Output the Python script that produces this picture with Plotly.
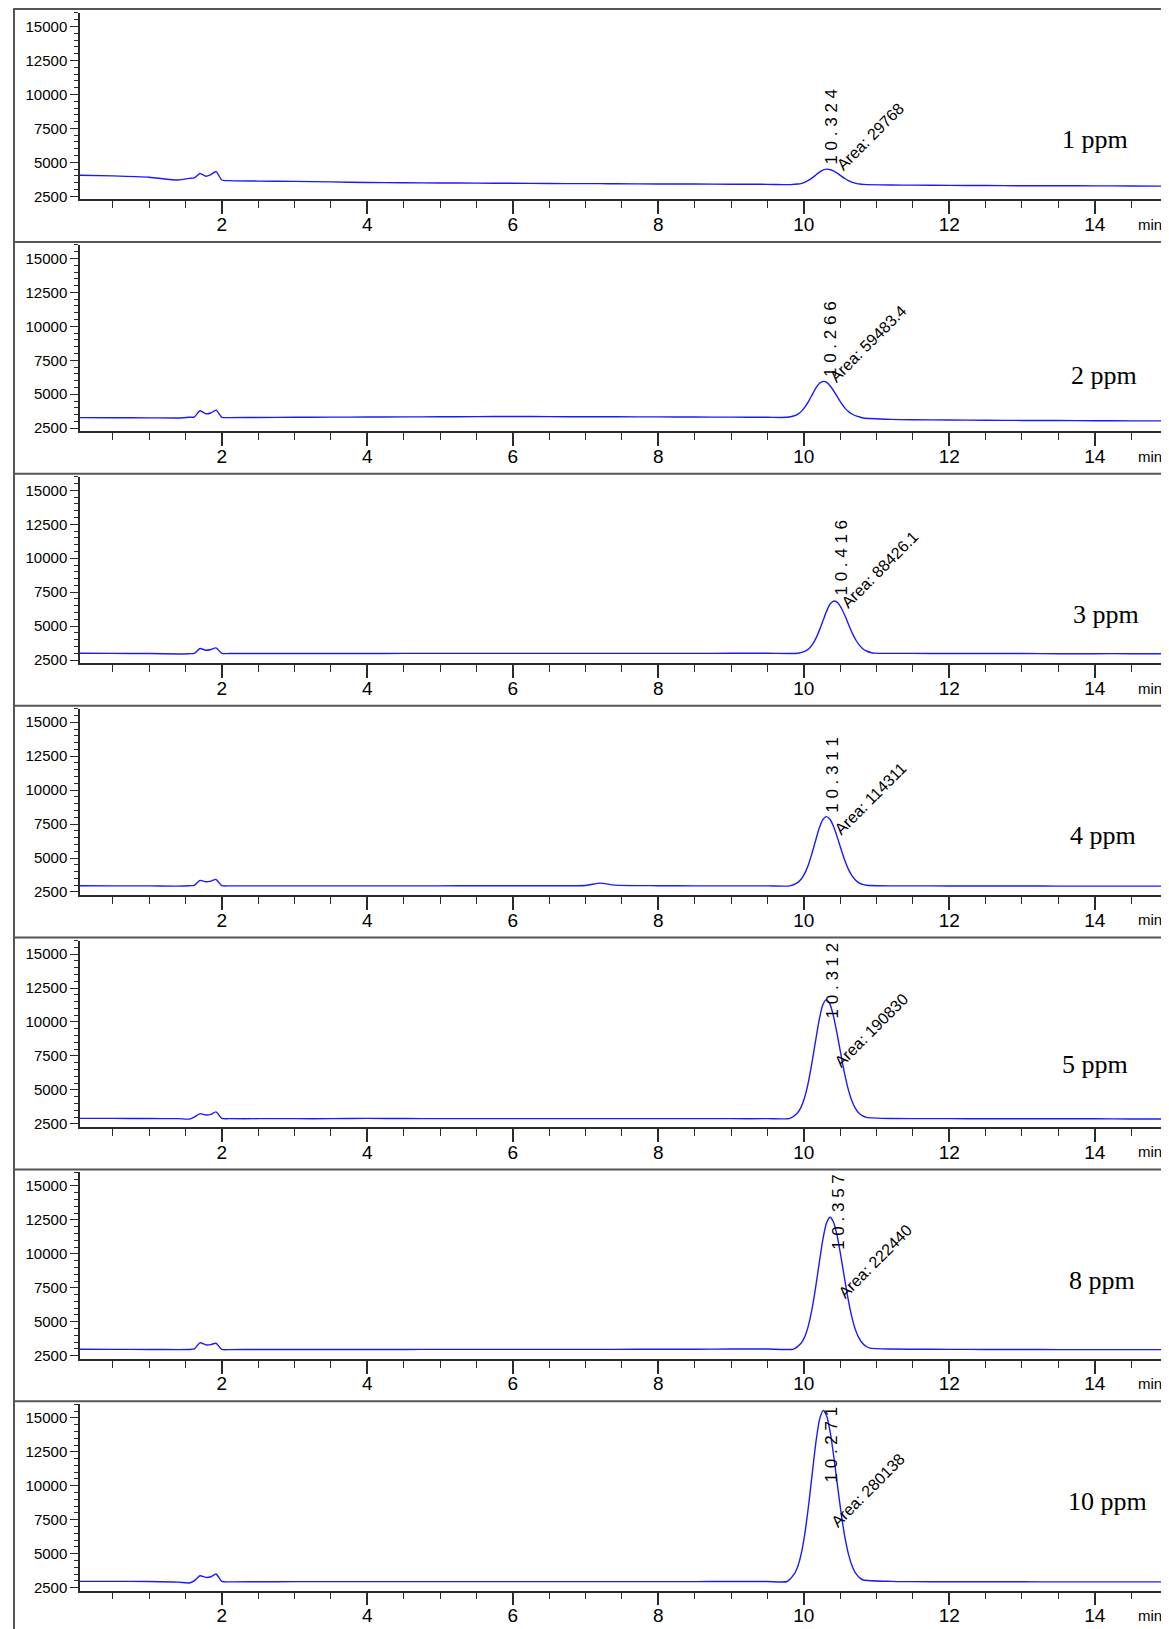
import plotly.graph_objects as go

# ---------------- data ----------------
conc_labels = ["1 ppm", "2 ppm", "3 ppm", "4 ppm", "5 ppm", "8 ppm", "10 ppm"]
rt_labels = ["1 0 . 3 2 4", "1 0 . 2 6 6", "1 0 . 4 1 6", "1 0 . 3 1 1",
             "1 0 . 3 1 2", "1 0 . 3 5 7", "1 0 . 2 7 1"]
area_labels = ["Area: 29768", "Area: 59483.4", "Area: 88426.1", "Area: 114311",
               "Area: 190830", "Area: 222440", "Area: 280138"]

times_pre = [0.05, 0.5, 1.0, 1.4, 1.55, 1.62, 1.70, 1.78, 1.85, 1.92, 2.0, 2.1, 2.5,
             3.0, 3.5, 4.0, 4.5, 5.0, 5.5, 6.0, 6.5, 7.0, 7.2, 7.4, 8.0, 8.5, 9.0, 9.5]
times_post = [11.2, 11.5, 12.0, 12.5, 13.0, 13.5, 14.0, 14.5, 14.98]

# peak-region times for each run
tp_1ppm = [9.82, 9.92, 9.97, 10.02, 10.07, 10.12, 10.17, 10.22, 10.27, 10.32, 10.37,
           10.42, 10.47, 10.52, 10.57, 10.62, 10.67, 10.72, 10.77, 10.82, 10.87]
tp_2ppm = [9.77, 9.87, 9.92, 9.97, 10.02, 10.07, 10.12, 10.17, 10.22, 10.27, 10.32,
           10.37, 10.42, 10.47, 10.52, 10.57, 10.62, 10.67, 10.72, 10.77, 10.82]
tp_3ppm = [9.92, 10.02, 10.07, 10.12, 10.17, 10.22, 10.27, 10.32, 10.37, 10.42, 10.47,
           10.52, 10.57, 10.62, 10.67, 10.72, 10.77, 10.82, 10.87, 10.92, 10.97]
tp_4ppm = [9.81, 9.91, 9.96, 10.01, 10.06, 10.11, 10.16, 10.21, 10.26, 10.31, 10.36,
           10.41, 10.46, 10.51, 10.56, 10.61, 10.66, 10.71, 10.76, 10.81, 10.86]
tp_5ppm = [9.81, 9.91, 9.96, 10.01, 10.06, 10.11, 10.16, 10.21, 10.26, 10.31, 10.36,
           10.41, 10.46, 10.51, 10.56, 10.61, 10.66, 10.71, 10.76, 10.81, 10.86]
tp_8ppm = [9.86, 9.96, 10.01, 10.06, 10.11, 10.16, 10.21, 10.26, 10.31, 10.36, 10.41,
           10.46, 10.51, 10.56, 10.61, 10.66, 10.71, 10.76, 10.81, 10.86, 10.91]
tp_10ppm = [9.77, 9.87, 9.92, 9.97, 10.02, 10.07, 10.12, 10.17, 10.22, 10.27, 10.32,
            10.37, 10.42, 10.47, 10.52, 10.57, 10.62, 10.67, 10.72, 10.77, 10.82]

# detector signal
pre_1ppm = [4050, 4000, 3900, 3700, 3820, 3850, 4180, 3980, 4100, 4320, 3700, 3650, 3620,
            3600, 3560, 3520, 3500, 3480, 3470, 3460, 3440, 3430, 3430, 3425, 3410, 3400, 3390, 3380]
peak_1ppm = [3360, 3400, 3455, 3550, 3690, 3875, 4090, 4295, 4445, 4500, 4455,
             4335, 4165, 3970, 3790, 3635, 3525, 3450, 3400, 3375, 3360]
post_1ppm = [3330, 3320, 3300, 3290, 3280, 3280, 3270, 3260, 3250]

pre_2ppm = [3280, 3270, 3260, 3250, 3300, 3320, 3780, 3560, 3620, 3830, 3300, 3280, 3290,
            3300, 3310, 3320, 3330, 3340, 3350, 3360, 3350, 3340, 3340, 3340, 3330, 3320, 3310, 3300]
peak_2ppm = [3300, 3417, 3541, 3756, 4082, 4514, 5007, 5481, 5823, 5950, 5849,
             5571, 5174, 4731, 4310, 3960, 3700, 3525, 3400, 3320, 3250]
post_2ppm = [3150, 3120, 3100, 3080, 3070, 3060, 3050, 3040, 3040]

pre_3ppm = [3000, 2990, 2980, 2950, 2970, 2990, 3350, 3220, 3280, 3400, 2990, 2980, 2980,
            2980, 2980, 2980, 2990, 2990, 2990, 2990, 2990, 2990, 2990, 2990, 2990, 2990, 3000, 3000]
peak_3ppm = [3000, 3150, 3330, 3650, 4130, 4760, 5480, 6180, 6680, 6850, 6710,
             6300, 5720, 5070, 4450, 3940, 3560, 3300, 3150, 3060, 3010]
post_3ppm = [2990, 2990, 2980, 2980, 2980, 2970, 2970, 2970, 2960]

pre_4ppm = [2960, 2950, 2950, 2930, 2960, 2990, 3350, 3250, 3300, 3420, 2960, 2950, 2950,
            2950, 2950, 2950, 2950, 2950, 2960, 2960, 2960, 2980, 3150, 3000, 2960, 2950, 2950, 2950]
peak_4ppm = [2950, 3174, 3414, 3827, 4455, 5286, 6234, 7147, 7805, 8050, 7856,
             7321, 6556, 5704, 4893, 4220, 3720, 3384, 3174, 3057, 2996]
post_4ppm = [2950, 2950, 2940, 2940, 2940, 2930, 2930, 2930, 2930]

pre_5ppm = [2900, 2900, 2890, 2880, 2850, 3000, 3250, 3150, 3200, 3380, 2900, 2880, 2880,
            2880, 2880, 2900, 2890, 2880, 2880, 2880, 2880, 2880, 2880, 2880, 2880, 2880, 2880, 2880]
peak_5ppm = [2900, 3285, 3696, 4405, 5481, 6908, 8535, 10101, 11230, 11650, 11318,
             10399, 9086, 7625, 6234, 5079, 4221, 3644, 3285, 3084, 2979]
post_5ppm = [2890, 2880, 2880, 2870, 2870, 2870, 2870, 2860, 2860]

pre_8ppm = [2980, 2970, 2960, 2950, 2960, 3000, 3450, 3300, 3320, 3420, 2960, 2950, 2960,
            2960, 2960, 2960, 2960, 2970, 2970, 2970, 2970, 2970, 2970, 2970, 2980, 2980, 2990, 2990]
peak_8ppm = [2990, 3400, 3850, 4640, 5840, 7420, 9230, 10974, 12232, 12700, 12330,
             11306, 9843, 8215, 6665, 5378, 4422, 3790, 3400, 3180, 3060]
post_8ppm = [2990, 2980, 2970, 2960, 2960, 2950, 2950, 2950, 2950]

pre_10ppm = [2960, 2960, 2950, 2900, 2843, 3000, 3376, 3250, 3300, 3500, 2950, 2920, 2930,
             2940, 2940, 2940, 2940, 2940, 2940, 2940, 2940, 2940, 2940, 2940, 2940, 2940, 2950, 2950]
peak_10ppm = [2950, 3504, 4097, 5117, 6667, 8721, 11064, 13320, 14945, 15550, 15071,
              13748, 11858, 9754, 7751, 6087, 4853, 4021, 3504, 3215, 3063]
post_10ppm = [2960, 2940, 2930, 2930, 2930, 2920, 2920, 2920, 2920]

runs = [
    (tp_1ppm, pre_1ppm, peak_1ppm, post_1ppm),
    (tp_2ppm, pre_2ppm, peak_2ppm, post_2ppm),
    (tp_3ppm, pre_3ppm, peak_3ppm, post_3ppm),
    (tp_4ppm, pre_4ppm, peak_4ppm, post_4ppm),
    (tp_5ppm, pre_5ppm, peak_5ppm, post_5ppm),
    (tp_8ppm, pre_8ppm, peak_8ppm, post_8ppm),
    (tp_10ppm, pre_10ppm, peak_10ppm, post_10ppm),
]

y_ticks = [2500, 5000, 7500, 10000, 12500, 15000]
x_ticks = [2, 4, 6, 8, 10, 12, 14]

# ---------------- layout constants (positions) ----------------
W, H = 1169, 1629
PANEL_TOP0 = 2.0
PANEL_STEP = 232.6
PLOT_TOP_OFF = 3.0
PLOT_BOT_OFF = 190.0
X_LEFT, X_RIGHT = 72.0, 1158.0
FRAME_LEFT = 6.0

rt_pos = [(10.385, 7617), (10.375, 9070), (10.513, 10055), (10.399, 11114),
          (10.399, 13049), (10.467, 13079), (10.385, 13025)]
area_pos = [(10.918, 6886), (10.89, 8705), (11.05, 9143), (10.925, 9347),
            (10.925, 9404), (10.98, 9462), (10.88, 9654)]
conc_pos = [(14.0, 6667), (14.13, 6354), (14.15, 5836), (14.11, 6683),
            (14.01, 6896), (14.10, 8061), (14.18, 8858)]

SANS = "Liberation Sans, Arial, sans-serif"
SERIF = "Liberation Serif, Times New Roman, serif"
LINE_COL = "#2a2a2a"

fig = go.Figure()
layout = dict(
    width=W, height=H, margin=dict(l=0, r=0, t=0, b=0),
    paper_bgcolor="white", plot_bgcolor="white", showlegend=False,
    annotations=[], shapes=[],
)

for i, (tp, pre, peak, post) in enumerate(runs):
    n = "" if i == 0 else str(i + 1)
    P = PANEL_TOP0 + PANEL_STEP * i
    y_top = 1 - (P + PLOT_TOP_OFF) / H
    y_bot = 1 - (P + PLOT_BOT_OFF) / H
    t_all = times_pre + tp + times_post
    s_all = pre + peak + post
    fig.add_trace(go.Scatter(
        x=t_all, y=s_all, mode="lines", xaxis="x" + n, yaxis="y" + n,
        line=dict(color="#1a1aff", width=1.4, shape="spline", smoothing=0.6),
        hoverinfo="skip",
    ))
    layout["xaxis" + n] = dict(
        domain=[X_LEFT / W, X_RIGHT / W], anchor="y" + n, range=[0.05, 14.98],
        showgrid=False, zeroline=False, showline=True, linecolor=LINE_COL, linewidth=1.5,
        tickmode="array", tickvals=x_ticks, ticktext=[str(v) for v in x_ticks],
        ticks="outside", ticklen=13, tickwidth=1.5, tickcolor=LINE_COL,
        minor=dict(ticks="outside", ticklen=7, tickwidth=1.2, tickcolor=LINE_COL,
                   tickmode="linear", tick0=0, dtick=0.5),
        ticklabelstandoff=-6,
        tickfont=dict(family=SANS, size=19, color="black"),
        fixedrange=True,
    )
    layout["yaxis" + n] = dict(
        domain=[y_bot, y_top], anchor="x" + n, range=[2270, 16000],
        showgrid=False, zeroline=False, showline=True, linecolor=LINE_COL, linewidth=1.5,
        tickmode="array", tickvals=y_ticks, ticktext=[str(v) for v in y_ticks],
        ticks="outside", ticklen=8, tickwidth=1.2, tickcolor=LINE_COL,
        minor=dict(ticks="outside", ticklen=4, tickwidth=1, tickcolor=LINE_COL,
                   tickmode="linear", tick0=0, dtick=500),
        tickfont=dict(family=SANS, size=15, color="black"),
        fixedrange=True,
    )
    # retention time label (vertical)
    layout["annotations"].append(dict(
        x=rt_pos[i][0], y=rt_pos[i][1], xref="x" + n, yref="y" + n,
        text=rt_labels[i], showarrow=False, textangle=-90,
        xanchor="center", yanchor="middle",
        font=dict(family=SANS, size=17, color="black"),
    ))
    # area label (slanted)
    layout["annotations"].append(dict(
        x=area_pos[i][0], y=area_pos[i][1], xref="x" + n, yref="y" + n,
        text=area_labels[i], showarrow=False, textangle=-45,
        xanchor="center", yanchor="middle",
        font=dict(family=SANS, size=16, color="black"),
    ))
    # concentration label
    layout["annotations"].append(dict(
        x=conc_pos[i][0], y=conc_pos[i][1], xref="x" + n, yref="y" + n,
        text=conc_labels[i], showarrow=False,
        xanchor="center", yanchor="middle",
        font=dict(family=SERIF, size=26, color="black"),
    ))
    # "min" unit label
    layout["annotations"].append(dict(
        x=(X_RIGHT - 2) / W, y=1 - (P + 215) / H, xref="paper", yref="paper",
        text="min", showarrow=False, xanchor="right", yanchor="middle",
        font=dict(family=SANS, size=15, color="black"),
    ))
    # separator between panels
    if i > 0:
        layout["shapes"].append(dict(
            type="line", xref="paper", yref="paper",
            x0=FRAME_LEFT / W, x1=X_RIGHT / W, y0=1 - P / H, y1=1 - P / H,
            line=dict(color="#555555", width=2),
        ))

# outer frame
layout["shapes"].append(dict(
    type="rect", xref="paper", yref="paper",
    x0=FRAME_LEFT / W, x1=X_RIGHT / W, y0=0.0005, y1=1 - 1 / H,
    line=dict(color="#555555", width=2), fillcolor="rgba(0,0,0,0)",
))

fig.update_layout(**layout)
fig.write_html("out.html")
